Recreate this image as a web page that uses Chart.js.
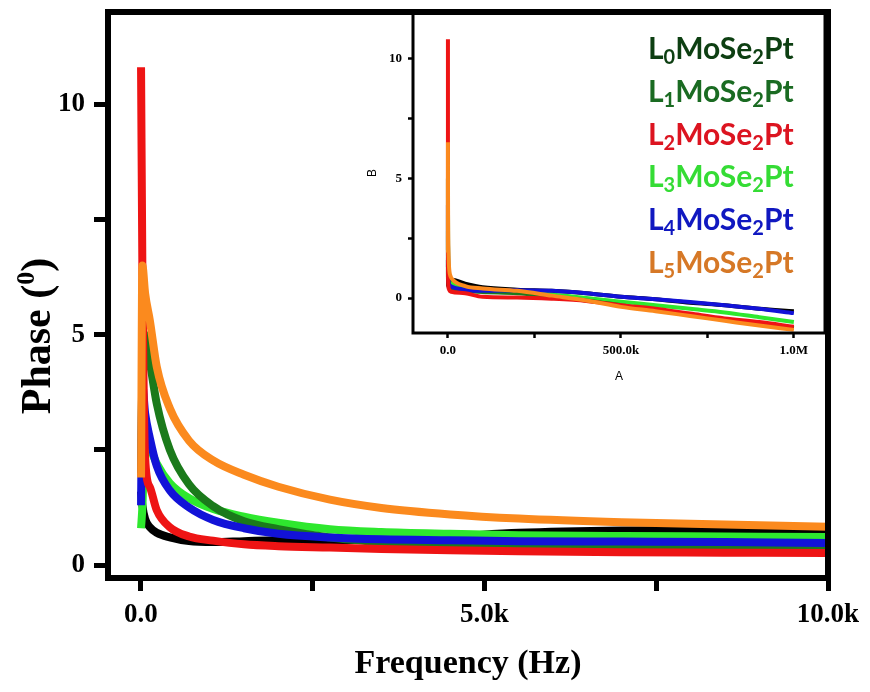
<!DOCTYPE html>
<html lang="en">
<head>
<meta charset="UTF-8">
<title>Phase vs Frequency</title>
<script src="https://cdn.jsdelivr.net/npm/chart.js"></script>
<style>
  html, body { margin: 0; padding: 0; background: #fff; }
  #wrap { position: relative; width: 870px; height: 692px; }
  #mainChart { position: absolute; left: 0; top: 0; }
  #insetChart { position: absolute; left: 330px; top: 0; }
</style>
</head>
<body>
<div id="wrap">
  <canvas id="mainChart" width="870" height="692"></canvas>
  <canvas id="insetChart" width="510" height="400"></canvas>
</div>
<script>
// frequency points (Hz), shared by all samples
const freq = [1, 20, 60, 130, 230, 420, 700, 1050, 1500, 2000, 2750, 3500, 4500, 5500, 7000, 8500, 10000,
  50000, 100000, 200000, 300000, 400000, 500000, 600000, 700000, 800000, 900000, 1000000];

// phase (deg)
const phaseL0 = [1.6, 1.3, 1.0, 0.82, 0.7, 0.6, 0.52, 0.5, 0.52, 0.54, 0.54, 0.56, 0.62, 0.7, 0.75, 0.76, 0.76,
  0.6, 0.45, 0.35, 0.3, 0.2, 0.05, -0.05, -0.2, -0.3, -0.45, -0.55];
const phaseL1 = [2.0, 4.2, 5.0, 4.4, 3.5, 2.5, 1.75, 1.28, 0.95, 0.78, 0.6, 0.5, 0.42, 0.39, 0.38, 0.38, 0.37,
  0.3, 0.25, 0.2, 0.05, -0.1, -0.3, -0.5, -0.7, -0.9, -1.05, -1.25];
const phaseL2 = [10.8, 6.5, 2.34, 1.69, 1.19, 0.82, 0.62, 0.53, 0.45, 0.41, 0.38, 0.35, 0.32, 0.3, 0.28, 0.27, 0.26,
  0.2, 0.05, 0.02, -0.03, -0.12, -0.3, -0.45, -0.65, -0.85, -1.0, -1.2];
const phaseL3 = [0.8, 1.25, 2.8, 2.55, 2.2, 1.78, 1.45, 1.22, 1.05, 0.92, 0.78, 0.72, 0.68, 0.65, 0.63, 0.62, 0.61,
  0.4, 0.3, 0.25, 0.15, 0.0, -0.15, -0.3, -0.45, -0.6, -0.8, -1.0];
const phaseL4 = [1.3, 3.9, 3.3, 2.75, 2.15, 1.62, 1.25, 0.98, 0.8, 0.68, 0.6, 0.56, 0.54, 0.52, 0.51, 0.5, 0.48,
  0.35, 0.3, 0.33, 0.3, 0.2, 0.05, -0.05, -0.17, -0.3, -0.45, -0.63];
const phaseL5 = [1.9, 6.5, 5.9, 5.3, 4.3, 3.4, 2.7, 2.27, 1.96, 1.7, 1.42, 1.24, 1.1, 1.01, 0.93, 0.88, 0.83,
  0.5, 0.4, 0.3, 0.1, -0.1, -0.37, -0.55, -0.75, -0.95, -1.15, -1.33];

const seriesNames = ['L0MoSe2Pt', 'L1MoSe2Pt', 'L2MoSe2Pt', 'L3MoSe2Pt', 'L4MoSe2Pt', 'L5MoSe2Pt'];
const lineColors = ['#000000', '#1b7a1b', '#ee1414', '#2ee82e', '#1212d8', '#fb8a1e'];
const legendColors = ['#0d3f12', '#1a6b22', '#dc1420', '#35dc35', '#1018c0', '#d67826'];
const drawOrder = [5, 3, 1, 4, 2, 0];

const xTicksMain = [0, 2500, 5000, 7500, 10000];
const xLabelsMain = ['0.0', '', '5.0k', '', '10.0k'];
const yTicksMain = [0, 2.5, 5, 7.5, 10];
const yLabelsMain = ['0', '', '5', '', '10'];
const xTicksInset = [0, 250000, 500000, 750000, 1000000];
const xLabelsInset = ['0.0', '', '500.0k', '', '1.0M'];
const yTicksInset = [0, 2.5, 5, 7.5, 10];
const yLabelsInset = ['0', '', '5', '', '10'];

const phases = [phaseL0, phaseL1, phaseL2, phaseL3, phaseL4, phaseL5];
const serif = '"Liberation Serif", "Times New Roman", serif';
const sans = '"Liberation Sans", Arial, sans-serif';

function makeDatasets(width) {
  return phases.map((vals, i) => ({
    label: seriesNames[i],
    data: freq.map((f, j) => ({ x: f, y: vals[j] })),
    borderColor: lineColors[i],
    backgroundColor: lineColors[i],
    borderWidth: width,
    pointRadius: 0,
    showLine: true,
    cubicInterpolationMode: 'monotone',
    order: drawOrder[i],
    clip: 0
  }));
}

function axis(min, max, values, labels, fontSize, tickLen, tickW, pad) {
  return {
    type: 'linear', min: min, max: max,
    afterBuildTicks: s => { s.ticks = values.map(v => ({ value: v })); },
    border: { display: false },
    grid: { drawOnChartArea: false, drawTicks: true, tickLength: tickLen, tickWidth: tickW, tickColor: '#000' },
    ticks: {
      autoSkip: false, maxRotation: 0, padding: pad, color: '#000',
      font: { family: serif, size: fontSize, weight: 'bold' },
      callback: (v, i) => labels[i]
    }
  };
}

// fixed box sizes so the plot area lands where the picture has it
function sizeX(h) {
  return s => { s.height = h; s.paddingLeft = 0; s.paddingRight = 0; s.paddingTop = 0; s.paddingBottom = 0; };
}
function sizeY(w) {
  return s => { s.width = w; s.paddingLeft = 0; s.paddingRight = 0; s.paddingTop = 0; s.paddingBottom = 0; };
}

// thick box round the plot area
const framePlugin = {
  id: 'frame',
  afterDatasetsDraw(chart, args, opts) {
    const { ctx, chartArea: a } = chart;
    ctx.save();
    ctx.strokeStyle = '#000';
    ctx.lineWidth = opts.width;
    ctx.strokeRect(a.left, a.top, a.right - a.left, a.bottom - a.top);
    ctx.restore();
  }
};

// y title with a superscript 0
const phaseTitle = {
  id: 'phaseTitle',
  afterDraw(chart) {
    const ctx = chart.ctx;
    const big = 'bold 42px ' + serif, small = 'bold 26px ' + serif;
    ctx.save();
    ctx.translate(50, 336);
    ctx.rotate(-Math.PI / 2);
    ctx.fillStyle = '#000';
    ctx.textAlign = 'left';
    ctx.textBaseline = 'alphabetic';
    ctx.font = big;
    const w1 = ctx.measureText('Phase (').width, w3 = ctx.measureText(')').width;
    ctx.font = small;
    const w2 = ctx.measureText('0').width;
    let x = -(w1 + w2 + w3) / 2;
    ctx.font = big; ctx.fillText('Phase (', x, 0); x += w1;
    ctx.font = small; ctx.fillText('0', x, -16); x += w2;
    ctx.font = big; ctx.fillText(')', x, 0);
    ctx.restore();
  }
};

// sample names, digits as subscripts
const insetLegend = {
  id: 'insetLegend',
  afterDraw(chart) {
    const ctx = chart.ctx;
    ctx.save();
    ctx.textAlign = 'left';
    ctx.textBaseline = 'alphabetic';
    seriesNames.forEach((name, i) => {
      let x = 318;
      const y = 59 + i * 42.8;
      ctx.fillStyle = legendColors[i];
      name.match(/\d+|\D+/g).forEach(part => {
        const sub = /\d/.test(part);
        ctx.font = sub ? 'bold 20px Lato' : 'bold 30px Lato';
        ctx.fillText(part, x, sub ? y + 5 : y);
        x += ctx.measureText(part).width;
      });
    });
    ctx.restore();
  }
};

const mainX = axis(-480, 10000, xTicksMain, xLabelsMain, 27, 13, 5, 8);
mainX.afterFit = sizeX(114);
mainX.title = { display: true, text: 'Frequency (Hz)', color: '#000',
  font: { family: serif, size: 34, weight: 'bold' }, padding: { top: 0, bottom: 7 } };
const mainY = axis(-0.28, 12, yTicksMain, yLabelsMain, 27, 14, 5, 9);
mainY.afterFit = sizeY(108);

new Chart(document.getElementById('mainChart'), {
  type: 'scatter',
  data: { datasets: makeDatasets(8) },
  options: {
    responsive: false,
    animation: false,
    devicePixelRatio: 1,
    layout: { padding: { left: 0, top: 12, right: 42, bottom: 0 } },
    scales: { x: mainX, y: mainY },
    plugins: { legend: { display: false }, tooltip: { enabled: false }, frame: { width: 6 } }
  },
  plugins: [framePlugin, phaseTitle]
});

const insetX = axis(-101000, 1090000, xTicksInset, xLabelsInset, 13, 5, 2.5, 5);
insetX.afterFit = sizeX(67);
insetX.title = { display: true, text: 'A', color: '#000', font: { family: sans, size: 12 }, padding: { top: 0, bottom: 16 } };
const insetY = axis(-1.46, 11.9, yTicksInset, yLabelsInset, 13, 5, 2.5, 6);
insetY.afterFit = sizeY(83);
insetY.title = { display: true, text: 'B', color: '#000', font: { family: sans, size: 12 }, padding: { top: 35, bottom: 0 } };

new Chart(document.getElementById('insetChart'), {
  type: 'scatter',
  data: { datasets: makeDatasets(4) },
  options: {
    responsive: false,
    animation: false,
    devicePixelRatio: 1,
    layout: { padding: { left: 0, top: 13, right: 15, bottom: 0 } },
    scales: { x: insetX, y: insetY },
    plugins: { legend: { display: false }, tooltip: { enabled: false }, frame: { width: 3 } }
  },
  plugins: [framePlugin, insetLegend]
});
</script>
</body>
</html>
